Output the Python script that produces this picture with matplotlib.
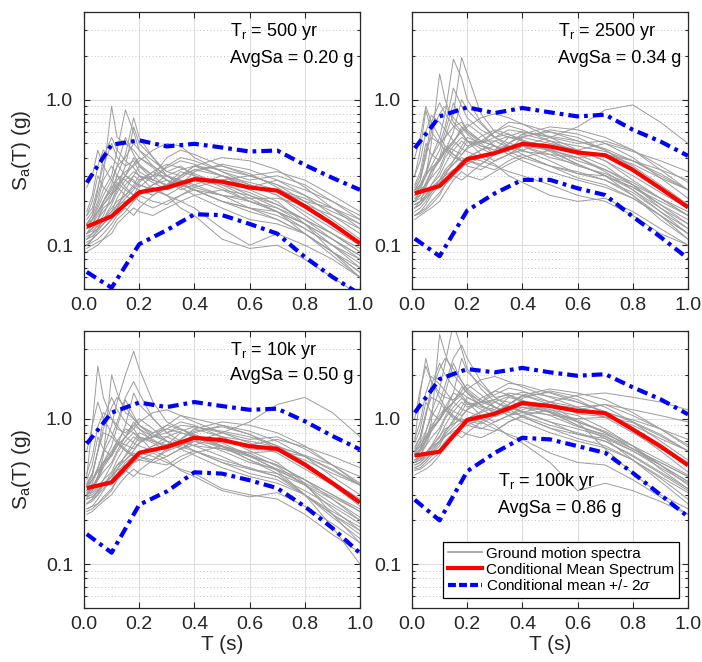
import numpy as np
import matplotlib
matplotlib.use('Agg')
import matplotlib.pyplot as plt
from matplotlib.ticker import FixedLocator, NullFormatter, FixedFormatter
from matplotlib.lines import Line2D

plt.rcParams['font.family'] = ['Liberation Sans', 'DejaVu Sans']
plt.rcParams['mathtext.fontset'] = 'custom'
plt.rcParams['mathtext.rm'] = 'Liberation Sans'
plt.rcParams['mathtext.it'] = 'Liberation Sans:italic'
plt.rcParams['mathtext.bf'] = 'Liberation Sans:bold'

# ---------------- data ----------------
T_cms = [0.01, 0.1, 0.2, 0.3, 0.4, 0.5, 0.6, 0.7, 0.8, 0.9, 1.0]
T_gm = [0.01, 0.03, 0.05, 0.07, 0.1, 0.12, 0.15, 0.18, 0.2, 0.25, 0.3, 0.35,
        0.4, 0.5, 0.6, 0.7, 0.8, 0.9, 1.0]

labels_tr = ['T$_\\mathrm{r}$ = 500 yr', 'T$_\\mathrm{r}$ = 2500 yr',
             'T$_\\mathrm{r}$ = 10k yr', 'T$_\\mathrm{r}$ = 100k yr']
labels_avg = ['AvgSa = 0.20 g', 'AvgSa = 0.34 g', 'AvgSa = 0.50 g', 'AvgSa = 0.86 g']

cms_500 = [0.134, 0.158, 0.231, 0.249, 0.284, 0.273, 0.249, 0.237, 0.185, 0.140, 0.103]
hi_500 = [0.269, 0.49, 0.525, 0.477, 0.497, 0.469, 0.44, 0.447, 0.356, 0.29, 0.24]
lo_500 = [0.0655, 0.051, 0.1016, 0.127, 0.163, 0.161, 0.14, 0.12, 0.083, 0.0605, 0.046]

cms_2500 = [0.227, 0.255, 0.39, 0.429, 0.497, 0.477, 0.433, 0.415, 0.329, 0.246, 0.182]
hi_2500 = [0.464, 0.767, 0.885, 0.809, 0.876, 0.818, 0.767, 0.788, 0.621, 0.516, 0.411]
lo_2500 = [0.111, 0.084, 0.173, 0.227, 0.281, 0.281, 0.246, 0.221, 0.157, 0.114, 0.081]

cms_10k = [0.333, 0.365, 0.582, 0.64, 0.739, 0.712, 0.647, 0.62, 0.483, 0.361, 0.265]
hi_10k = [0.672, 1.10, 1.29, 1.20, 1.30, 1.22, 1.15, 1.17, 0.96, 0.76, 0.614]
lo_10k = [0.161, 0.12, 0.256, 0.316, 0.428, 0.419, 0.377, 0.333, 0.249, 0.177, 0.119]

cms_100k = [0.558, 0.592, 0.979, 1.08, 1.28, 1.22, 1.13, 1.09, 0.844, 0.647, 0.478]
hi_100k = [1.10, 1.87, 2.19, 2.08, 2.23, 2.08, 1.97, 2.02, 1.64, 1.36, 1.07]
lo_100k = [0.277, 0.20, 0.435, 0.582, 0.739, 0.72, 0.647, 0.582, 0.424, 0.30, 0.212]

gm_500 = [
    [0.13, 0.15, 0.19, 0.24, 0.30, 0.45, 0.85, 0.60, 0.45, 0.35, 0.30, 0.28, 0.25, 0.22, 0.20, 0.17, 0.13, 0.10, 0.08],
    [0.11, 0.12, 0.14, 0.16, 0.22, 0.30, 0.42, 0.75, 0.55, 0.40, 0.32, 0.30, 0.33, 0.30, 0.26, 0.22, 0.16, 0.12, 0.09],
    [0.16, 0.18, 0.25, 0.35, 0.50, 0.40, 0.35, 0.38, 0.32, 0.28, 0.35, 0.40, 0.38, 0.32, 0.28, 0.30, 0.26, 0.20, 0.15],
    [0.10, 0.11, 0.12, 0.13, 0.15, 0.17, 0.20, 0.22, 0.26, 0.24, 0.22, 0.20, 0.18, 0.13, 0.10, 0.12, 0.10, 0.08, 0.06],
    [0.12, 0.13, 0.15, 0.18, 0.20, 0.25, 0.30, 0.28, 0.25, 0.30, 0.40, 0.45, 0.42, 0.35, 0.30, 0.26, 0.20, 0.15, 0.11],
    [0.14, 0.16, 0.20, 0.28, 0.35, 0.30, 0.25, 0.22, 0.20, 0.18, 0.20, 0.22, 0.25, 0.28, 0.30, 0.32, 0.28, 0.22, 0.17],
    [0.09, 0.095, 0.10, 0.11, 0.12, 0.14, 0.16, 0.18, 0.17, 0.16, 0.18, 0.20, 0.22, 0.24, 0.22, 0.18, 0.14, 0.10, 0.07],
    [0.15, 0.17, 0.22, 0.30, 0.90, 0.55, 0.50, 0.45, 0.40, 0.35, 0.30, 0.26, 0.24, 0.20, 0.18, 0.15, 0.12, 0.09, 0.065],
    [0.12, 0.14, 0.17, 0.20, 0.25, 0.28, 0.32, 0.35, 0.38, 0.45, 0.50, 0.48, 0.40, 0.32, 0.26, 0.22, 0.17, 0.13, 0.10],
    [0.11, 0.12, 0.13, 0.15, 0.18, 0.20, 0.22, 0.25, 0.24, 0.22, 0.25, 0.30, 0.35, 0.40, 0.38, 0.33, 0.25, 0.18, 0.13],
    [0.25, 0.30, 0.45, 0.35, 0.28, 0.25, 0.22, 0.20, 0.22, 0.26, 0.28, 0.25, 0.22, 0.18, 0.15, 0.14, 0.12, 0.09, 0.07],
    [0.13, 0.14, 0.16, 0.20, 0.24, 0.30, 0.28, 0.25, 0.28, 0.32, 0.28, 0.24, 0.26, 0.30, 0.27, 0.24, 0.20, 0.18, 0.15],
    [0.10, 0.11, 0.13, 0.14, 0.16, 0.18, 0.24, 0.30, 0.35, 0.30, 0.25, 0.30, 0.35, 0.30, 0.24, 0.20, 0.14, 0.09, 0.06],
    [0.14, 0.15, 0.18, 0.22, 0.28, 0.35, 0.40, 0.50, 0.45, 0.38, 0.32, 0.35, 0.30, 0.25, 0.20, 0.17, 0.14, 0.11, 0.085],
    [0.12, 0.13, 0.14, 0.15, 0.17, 0.19, 0.20, 0.21, 0.22, 0.25, 0.22, 0.18, 0.16, 0.11, 0.095, 0.10, 0.08, 0.06, 0.045],
    [0.16, 0.20, 0.30, 0.25, 0.22, 0.26, 0.30, 0.40, 0.35, 0.28, 0.26, 0.32, 0.30, 0.27, 0.25, 0.28, 0.24, 0.20, 0.16],
    [0.10, 0.105, 0.11, 0.12, 0.14, 0.16, 0.18, 0.16, 0.18, 0.22, 0.26, 0.25, 0.28, 0.26, 0.23, 0.19, 0.15, 0.12, 0.09],
    [0.13, 0.15, 0.17, 0.19, 0.22, 0.25, 0.35, 0.65, 0.50, 0.40, 0.30, 0.26, 0.24, 0.22, 0.21, 0.21, 0.19, 0.16, 0.13],
    [0.115, 0.12, 0.13, 0.15, 0.19, 0.23, 0.28, 0.32, 0.30, 0.27, 0.24, 0.26, 0.29, 0.27, 0.22, 0.19, 0.15, 0.11, 0.08],
    [0.14, 0.16, 0.24, 0.40, 0.55, 0.45, 0.38, 0.34, 0.30, 0.24, 0.22, 0.25, 0.28, 0.24, 0.20, 0.18, 0.15, 0.12, 0.095],
    [0.12, 0.125, 0.135, 0.15, 0.17, 0.21, 0.26, 0.30, 0.28, 0.30, 0.34, 0.38, 0.36, 0.30, 0.25, 0.24, 0.21, 0.17, 0.14],
    [0.095, 0.10, 0.105, 0.11, 0.13, 0.15, 0.17, 0.20, 0.22, 0.20, 0.19, 0.22, 0.24, 0.20, 0.17, 0.15, 0.12, 0.09, 0.065],
    [0.13, 0.14, 0.15, 0.17, 0.20, 0.24, 0.30, 0.36, 0.40, 0.34, 0.28, 0.26, 0.32, 0.36, 0.33, 0.28, 0.22, 0.16, 0.12],
    [0.17, 0.22, 0.35, 0.45, 0.40, 0.36, 0.30, 0.27, 0.26, 0.24, 0.26, 0.28, 0.26, 0.22, 0.18, 0.16, 0.13, 0.10, 0.075],
    [0.105, 0.11, 0.12, 0.13, 0.15, 0.18, 0.21, 0.24, 0.27, 0.32, 0.36, 0.34, 0.31, 0.26, 0.21, 0.17, 0.12, 0.085, 0.06],
    [0.14, 0.15, 0.17, 0.20, 0.26, 0.35, 0.55, 0.42, 0.36, 0.30, 0.30, 0.33, 0.35, 0.33, 0.30, 0.26, 0.22, 0.18, 0.14],
    [0.12, 0.13, 0.15, 0.19, 0.23, 0.27, 0.24, 0.22, 0.23, 0.26, 0.30, 0.27, 0.24, 0.20, 0.18, 0.17, 0.14, 0.11, 0.085],
    [0.11, 0.115, 0.125, 0.14, 0.16, 0.19, 0.22, 0.26, 0.30, 0.28, 0.26, 0.29, 0.33, 0.35, 0.31, 0.25, 0.19, 0.14, 0.10],
]

gm_2500 = [
    [0.20, 0.24, 0.30, 0.40, 0.55, 0.80, 1.90, 1.40, 1.00, 0.70, 0.55, 0.50, 0.48, 0.40, 0.36, 0.30, 0.24, 0.18, 0.14],
    [0.18, 0.20, 0.25, 0.30, 0.40, 0.55, 0.80, 1.95, 1.50, 0.80, 0.60, 0.55, 0.55, 0.50, 0.45, 0.38, 0.28, 0.21, 0.16],
    [0.30, 0.45, 0.85, 0.60, 0.50, 0.55, 0.65, 0.70, 0.60, 0.50, 0.55, 0.62, 0.60, 0.55, 0.50, 0.52, 0.45, 0.35, 0.27],
    [0.16, 0.17, 0.19, 0.22, 0.26, 0.28, 0.32, 0.38, 0.40, 0.38, 0.35, 0.32, 0.30, 0.26, 0.22, 0.20, 0.16, 0.12, 0.10],
    [0.22, 0.25, 0.30, 0.50, 1.50, 1.00, 0.70, 0.60, 0.52, 0.50, 0.60, 0.70, 0.68, 0.60, 0.52, 0.45, 0.35, 0.26, 0.19],
    [0.25, 0.30, 0.45, 0.55, 0.50, 0.45, 0.40, 0.38, 0.35, 0.33, 0.38, 0.42, 0.48, 0.55, 0.65, 0.85, 0.92, 0.70, 0.50],
    [0.15, 0.16, 0.17, 0.18, 0.20, 0.23, 0.28, 0.32, 0.30, 0.28, 0.32, 0.36, 0.40, 0.45, 0.40, 0.32, 0.24, 0.17, 0.12],
    [0.24, 0.28, 0.40, 0.60, 0.80, 0.90, 0.75, 0.65, 0.60, 0.52, 0.48, 0.44, 0.40, 0.35, 0.32, 0.28, 0.22, 0.16, 0.12],
    [0.20, 0.22, 0.27, 0.32, 0.38, 0.45, 0.52, 0.60, 0.65, 0.75, 0.80, 0.75, 0.68, 0.55, 0.45, 0.38, 0.30, 0.23, 0.18],
    [0.17, 0.18, 0.20, 0.23, 0.28, 0.32, 0.36, 0.40, 0.38, 0.36, 0.42, 0.50, 0.58, 0.65, 0.62, 0.55, 0.45, 0.33, 0.24],
    [0.40, 0.55, 0.90, 0.70, 0.55, 0.48, 0.42, 0.38, 0.40, 0.45, 0.48, 0.42, 0.38, 0.32, 0.28, 0.25, 0.21, 0.16, 0.12],
    [0.21, 0.23, 0.26, 0.32, 0.38, 0.48, 0.45, 0.42, 0.46, 0.52, 0.48, 0.42, 0.45, 0.52, 0.48, 0.44, 0.38, 0.33, 0.28],
    [0.18, 0.19, 0.22, 0.24, 0.27, 0.30, 0.38, 0.48, 0.55, 0.50, 0.42, 0.50, 0.58, 0.52, 0.42, 0.35, 0.26, 0.18, 0.13],
    [0.23, 0.26, 0.32, 0.40, 0.50, 0.65, 1.20, 0.90, 0.75, 0.62, 0.55, 0.58, 0.52, 0.44, 0.36, 0.30, 0.25, 0.20, 0.16],
    [0.19, 0.20, 0.22, 0.25, 0.28, 0.30, 0.33, 0.35, 0.36, 0.40, 0.36, 0.30, 0.27, 0.22, 0.20, 0.21, 0.17, 0.13, 0.10],
    [0.26, 0.32, 0.50, 0.42, 0.38, 0.44, 0.50, 0.65, 0.58, 0.48, 0.45, 0.55, 0.52, 0.48, 0.45, 0.50, 0.44, 0.38, 0.32],
    [0.16, 0.17, 0.18, 0.20, 0.23, 0.26, 0.30, 0.28, 0.30, 0.36, 0.42, 0.45, 0.48, 0.45, 0.40, 0.33, 0.27, 0.21, 0.16],
    [0.22, 0.26, 0.30, 0.34, 0.38, 0.44, 0.60, 1.00, 0.85, 0.68, 0.55, 0.48, 0.44, 0.42, 0.40, 0.42, 0.38, 0.30, 0.24],
    [0.19, 0.20, 0.22, 0.26, 0.32, 0.40, 0.48, 0.55, 0.52, 0.46, 0.42, 0.46, 0.50, 0.46, 0.38, 0.33, 0.26, 0.19, 0.14],
    [0.24, 0.28, 0.42, 0.70, 0.95, 0.80, 0.66, 0.58, 0.52, 0.42, 0.38, 0.42, 0.48, 0.42, 0.35, 0.31, 0.26, 0.21, 0.17],
    [0.20, 0.21, 0.23, 0.26, 0.30, 0.36, 0.45, 0.52, 0.48, 0.52, 0.60, 0.66, 0.62, 0.52, 0.44, 0.42, 0.36, 0.29, 0.24],
    [0.16, 0.165, 0.175, 0.19, 0.22, 0.26, 0.30, 0.34, 0.38, 0.35, 0.33, 0.38, 0.42, 0.35, 0.29, 0.26, 0.21, 0.16, 0.11],
    [0.22, 0.24, 0.26, 0.29, 0.34, 0.42, 0.52, 0.62, 0.68, 0.58, 0.48, 0.45, 0.55, 0.62, 0.58, 0.50, 0.40, 0.29, 0.21],
    [0.30, 0.38, 0.60, 0.78, 0.70, 0.62, 0.52, 0.46, 0.44, 0.40, 0.44, 0.48, 0.45, 0.38, 0.31, 0.28, 0.23, 0.17, 0.13],
    [0.18, 0.19, 0.21, 0.23, 0.26, 0.31, 0.36, 0.42, 0.47, 0.56, 0.62, 0.58, 0.53, 0.45, 0.36, 0.30, 0.22, 0.15, 0.11],
    [0.24, 0.26, 0.30, 0.35, 0.45, 0.60, 0.95, 0.72, 0.62, 0.52, 0.52, 0.56, 0.60, 0.56, 0.52, 0.46, 0.38, 0.31, 0.24],
    [0.21, 0.22, 0.26, 0.33, 0.40, 0.46, 0.42, 0.38, 0.40, 0.45, 0.52, 0.47, 0.42, 0.35, 0.31, 0.30, 0.25, 0.19, 0.15],
    [0.19, 0.20, 0.21, 0.24, 0.28, 0.33, 0.38, 0.45, 0.52, 0.48, 0.45, 0.50, 0.56, 0.60, 0.55, 0.45, 0.34, 0.25, 0.18],
]

gm_10k = [
    [0.30, 0.36, 0.45, 0.60, 0.90, 1.30, 2.00, 2.90, 2.20, 1.30, 0.95, 0.85, 0.75, 0.62, 0.55, 0.48, 0.38, 0.30, 0.23],
    [0.28, 0.32, 0.40, 0.55, 2.00, 1.50, 1.10, 1.00, 0.90, 0.80, 0.85, 0.80, 0.75, 0.65, 0.55, 0.45, 0.35, 0.26, 0.20],
    [0.40, 0.90, 2.30, 1.40, 1.00, 0.85, 0.80, 0.90, 0.85, 0.75, 0.80, 0.90, 0.88, 0.80, 0.72, 0.75, 0.62, 0.48, 0.36],
    [0.24, 0.25, 0.28, 0.32, 0.38, 0.42, 0.50, 0.55, 0.58, 0.55, 0.50, 0.45, 0.42, 0.33, 0.30, 0.28, 0.22, 0.16, 0.12],
    [0.30, 0.34, 0.40, 0.50, 0.60, 0.70, 0.85, 0.80, 0.72, 0.75, 0.90, 1.05, 1.00, 0.90, 0.78, 0.65, 0.50, 0.37, 0.28],
    [0.35, 0.42, 0.60, 0.80, 0.75, 0.68, 0.60, 0.55, 0.52, 0.50, 0.55, 0.62, 0.70, 0.80, 0.95, 1.25, 1.40, 1.10, 0.75],
    [0.22, 0.23, 0.25, 0.27, 0.30, 0.34, 0.40, 0.45, 0.42, 0.40, 0.45, 0.52, 0.58, 0.65, 0.58, 0.47, 0.35, 0.24, 0.17],
    [0.36, 0.42, 0.60, 0.85, 1.20, 1.40, 1.20, 1.00, 0.90, 0.78, 0.70, 0.64, 0.60, 0.52, 0.46, 0.40, 0.30, 0.22, 0.17],
    [0.30, 0.33, 0.40, 0.48, 0.56, 0.65, 0.75, 0.85, 0.95, 1.10, 1.15, 1.05, 0.95, 0.80, 0.68, 0.58, 0.45, 0.35, 0.27],
    [0.26, 0.27, 0.30, 0.35, 0.42, 0.48, 0.52, 0.58, 0.55, 0.52, 0.60, 0.72, 0.85, 0.95, 0.90, 0.80, 0.65, 0.48, 0.35],
    [0.60, 0.90, 1.30, 1.00, 0.80, 0.70, 0.62, 0.56, 0.58, 0.65, 0.70, 0.62, 0.56, 0.46, 0.40, 0.36, 0.30, 0.23, 0.18],
    [0.31, 0.34, 0.38, 0.46, 0.56, 0.70, 0.66, 0.62, 0.68, 0.76, 0.70, 0.62, 0.66, 0.75, 0.70, 0.64, 0.56, 0.48, 0.40],
    [0.26, 0.28, 0.32, 0.35, 0.40, 0.45, 0.56, 0.70, 0.80, 0.72, 0.62, 0.72, 0.85, 0.75, 0.60, 0.50, 0.36, 0.22, 0.14],
    [0.34, 0.38, 0.46, 0.58, 0.75, 0.95, 1.40, 1.80, 1.50, 1.00, 0.80, 0.85, 0.76, 0.64, 0.52, 0.44, 0.36, 0.29, 0.23],
    [0.28, 0.29, 0.32, 0.36, 0.40, 0.44, 0.48, 0.50, 0.52, 0.58, 0.52, 0.44, 0.40, 0.32, 0.29, 0.31, 0.25, 0.19, 0.14],
    [0.38, 0.48, 0.75, 0.62, 0.55, 0.65, 0.75, 0.95, 0.85, 0.70, 0.66, 0.80, 0.76, 0.70, 0.66, 0.72, 0.64, 0.55, 0.46],
    [0.23, 0.24, 0.26, 0.29, 0.33, 0.38, 0.44, 0.40, 0.44, 0.52, 0.62, 0.66, 0.70, 0.65, 0.56, 0.44, 0.30, 0.18, 0.10],
    [0.32, 0.38, 0.44, 0.50, 0.56, 0.65, 0.90, 1.50, 1.25, 1.00, 0.80, 0.70, 0.65, 0.62, 0.58, 0.60, 0.55, 0.44, 0.35],
    [0.29, 0.30, 0.33, 0.38, 0.48, 0.58, 0.70, 0.80, 0.75, 0.68, 0.60, 0.65, 0.72, 0.68, 0.56, 0.48, 0.38, 0.28, 0.20],
    [0.35, 0.40, 0.60, 1.00, 1.40, 1.15, 0.95, 0.85, 0.75, 0.60, 0.55, 0.62, 0.70, 0.60, 0.50, 0.45, 0.38, 0.30, 0.24],
    [0.30, 0.31, 0.34, 0.38, 0.43, 0.52, 0.65, 0.75, 0.70, 0.75, 0.85, 0.95, 0.90, 0.75, 0.62, 0.60, 0.52, 0.42, 0.35],
    [0.24, 0.25, 0.26, 0.28, 0.32, 0.38, 0.43, 0.50, 0.55, 0.50, 0.48, 0.55, 0.60, 0.50, 0.42, 0.38, 0.30, 0.22, 0.16],
    [0.32, 0.35, 0.38, 0.43, 0.50, 0.60, 0.75, 0.90, 1.00, 0.85, 0.70, 0.65, 0.80, 0.90, 0.82, 0.70, 0.55, 0.40, 0.30],
    [0.42, 0.55, 0.88, 1.10, 1.00, 0.90, 0.75, 0.68, 0.65, 0.60, 0.65, 0.70, 0.65, 0.55, 0.45, 0.40, 0.32, 0.25, 0.19],
    [0.26, 0.28, 0.30, 0.33, 0.38, 0.45, 0.52, 0.60, 0.68, 0.80, 0.90, 0.85, 0.78, 0.65, 0.52, 0.42, 0.30, 0.21, 0.15],
    [0.35, 0.38, 0.43, 0.50, 0.65, 0.88, 1.35, 1.05, 0.90, 0.75, 0.75, 0.82, 0.88, 0.82, 0.75, 0.65, 0.55, 0.45, 0.35],
    [0.30, 0.32, 0.38, 0.48, 0.58, 0.68, 0.60, 0.55, 0.58, 0.65, 0.75, 0.68, 0.60, 0.50, 0.45, 0.42, 0.35, 0.28, 0.21],
    [0.28, 0.29, 0.31, 0.35, 0.40, 0.48, 0.55, 0.65, 0.75, 0.70, 0.65, 0.72, 0.82, 0.88, 0.78, 0.62, 0.48, 0.35, 0.25],
]

gm_100k = [
    [0.55, 0.62, 0.80, 1.10, 1.60, 2.40, 4.50, 3.00, 2.20, 1.60, 1.30, 1.20, 1.10, 0.95, 0.85, 0.75, 0.60, 0.46, 0.36],
    [0.50, 0.55, 0.70, 0.95, 3.80, 2.80, 2.00, 1.70, 1.50, 1.30, 1.35, 1.30, 1.25, 1.10, 0.95, 0.80, 0.62, 0.48, 0.37],
    [0.70, 1.50, 2.60, 1.80, 1.50, 1.40, 1.35, 1.50, 1.40, 1.25, 1.35, 1.50, 1.45, 1.30, 1.20, 1.25, 1.05, 0.85, 0.66],
    [0.46, 0.48, 0.52, 0.58, 0.68, 0.75, 0.85, 0.95, 1.00, 0.95, 0.85, 0.78, 0.72, 0.58, 0.50, 0.48, 0.38, 0.29, 0.22],
    [0.56, 0.62, 0.72, 0.90, 1.05, 1.20, 1.50, 1.40, 1.25, 1.30, 1.55, 1.75, 1.70, 1.50, 1.30, 1.10, 0.85, 0.65, 0.50],
    [0.62, 0.75, 1.10, 1.40, 1.30, 1.15, 1.00, 0.95, 0.90, 0.85, 0.95, 1.05, 1.15, 1.30, 1.45, 1.50, 1.40, 1.30, 1.15],
    [0.44, 0.45, 0.48, 0.52, 0.58, 0.65, 0.75, 0.82, 0.78, 0.74, 0.82, 0.95, 1.05, 1.15, 1.05, 0.85, 0.65, 0.45, 0.33],
    [0.64, 0.75, 1.05, 1.50, 2.20, 2.60, 2.20, 1.80, 1.60, 1.35, 1.20, 1.10, 1.05, 0.90, 0.80, 0.70, 0.55, 0.42, 0.32],
    [0.55, 0.60, 0.70, 0.85, 1.00, 1.15, 1.30, 1.45, 1.60, 1.85, 1.95, 1.80, 1.65, 1.40, 1.20, 1.02, 0.80, 0.62, 0.48],
    [0.50, 0.52, 0.56, 0.64, 0.76, 0.85, 0.92, 1.00, 0.96, 0.92, 1.05, 1.25, 1.45, 1.60, 1.50, 1.35, 1.10, 0.85, 0.64],
    [1.00, 1.60, 2.30, 1.80, 1.40, 1.20, 1.05, 0.96, 1.00, 1.10, 1.20, 1.05, 0.95, 0.80, 0.70, 0.63, 0.52, 0.40, 0.31],
    [0.57, 0.62, 0.70, 0.82, 0.98, 1.20, 1.12, 1.05, 1.15, 1.30, 1.20, 1.05, 1.10, 1.25, 1.18, 1.10, 0.98, 0.85, 0.72],
    [0.48, 0.50, 0.56, 0.62, 0.70, 0.80, 0.98, 1.20, 1.40, 1.25, 1.08, 1.25, 1.45, 1.25, 0.95, 0.62, 0.42, 0.30, 0.24],
    [0.60, 0.68, 0.82, 1.02, 1.30, 1.70, 2.60, 3.20, 2.60, 1.80, 1.40, 1.45, 1.30, 1.10, 0.90, 0.76, 0.62, 0.50, 0.40],
    [0.52, 0.53, 0.58, 0.64, 0.70, 0.76, 0.82, 0.86, 0.90, 1.00, 0.90, 0.76, 0.68, 0.50, 0.32, 0.36, 0.32, 0.27, 0.22],
    [0.68, 0.85, 1.30, 1.10, 0.98, 1.12, 1.30, 1.65, 1.50, 1.22, 1.15, 1.40, 1.32, 1.22, 1.15, 1.25, 1.15, 1.05, 0.95],
    [0.45, 0.46, 0.50, 0.55, 0.62, 0.70, 0.80, 0.74, 0.80, 0.95, 1.10, 1.15, 1.20, 1.12, 0.98, 0.80, 0.62, 0.50, 0.40],
    [0.58, 0.65, 0.76, 0.86, 0.98, 1.12, 1.50, 2.60, 2.10, 1.70, 1.40, 1.22, 1.12, 1.06, 1.00, 1.02, 0.94, 0.76, 0.60],
    [0.50, 0.52, 0.57, 0.65, 0.82, 1.00, 1.20, 1.38, 1.30, 1.16, 1.03, 1.12, 1.25, 1.16, 0.95, 0.82, 0.65, 0.48, 0.35],
    [0.60, 0.70, 1.05, 1.70, 2.40, 2.00, 1.65, 1.45, 1.30, 1.05, 0.95, 1.05, 1.20, 1.05, 0.88, 0.78, 0.65, 0.52, 0.41],
    [0.52, 0.54, 0.58, 0.65, 0.74, 0.90, 1.12, 1.30, 1.20, 1.30, 1.46, 1.62, 1.55, 1.30, 1.08, 1.03, 0.90, 0.73, 0.60],
    [0.41, 0.43, 0.45, 0.48, 0.56, 0.65, 0.74, 0.86, 0.95, 0.86, 0.82, 0.95, 1.03, 0.86, 0.73, 0.65, 0.52, 0.39, 0.28],
    [0.56, 0.60, 0.65, 0.74, 0.86, 1.03, 1.30, 1.55, 1.72, 1.46, 1.20, 1.12, 1.38, 1.55, 1.42, 1.20, 0.95, 0.70, 0.52],
    [0.73, 0.95, 1.50, 1.95, 1.72, 1.55, 1.30, 1.16, 1.12, 1.03, 1.12, 1.20, 1.12, 0.95, 0.78, 0.70, 0.56, 0.43, 0.33],
    [0.46, 0.48, 0.52, 0.57, 0.65, 0.78, 0.90, 1.03, 1.16, 1.38, 1.55, 1.46, 1.34, 1.12, 0.90, 0.73, 0.52, 0.37, 0.26],
    [0.60, 0.65, 0.74, 0.86, 1.12, 1.50, 2.40, 1.80, 1.55, 1.30, 1.30, 1.42, 1.52, 1.42, 1.30, 1.12, 0.95, 0.78, 0.60],
    [0.52, 0.56, 0.65, 0.82, 1.00, 1.16, 1.03, 0.95, 1.00, 1.12, 1.30, 1.16, 1.03, 0.86, 0.78, 0.73, 0.60, 0.48, 0.37],
    [0.48, 0.50, 0.54, 0.60, 0.70, 0.82, 0.95, 1.12, 1.30, 1.20, 1.12, 1.25, 1.42, 1.52, 1.35, 1.08, 0.82, 0.60, 0.43],
]

x_ticks = [0.0, 0.2, 0.4, 0.6, 0.8, 1.0]
x_ticklabels = ['0.0', '0.2', '0.4', '0.6', '0.8', '1.0']
y_ticks = [0.1, 1.0]
y_ticklabels = ['0.1', '1.0']
y_minor = [0.05, 0.06, 0.07, 0.08, 0.09, 0.2, 0.3, 0.4, 0.5, 0.6, 0.7, 0.8, 0.9, 2.0, 3.0, 4.0]

legend_labels = ['Ground motion spectra', 'Conditional Mean Spectrum',
                 'Conditional mean +/- 2$\\sigma$']

panels = [
    (gm_500, cms_500, hi_500, lo_500),
    (gm_2500, cms_2500, hi_2500, lo_2500),
    (gm_10k, cms_10k, hi_10k, lo_10k),
    (gm_100k, cms_100k, hi_100k, lo_100k),
]

# ---------------- layout / style ----------------
W, H = 702, 662
fig = plt.figure(figsize=(W / 100, H / 100), dpi=100)
ax_boxes = [(84, 12), (412, 12), (84, 331), (412, 331)]
aw, ah = 276, 277
text_pos = [(0.529, 0.913, 0.816), (0.529, 0.913, 0.816),
            (0.529, 0.913, 0.822), (0.312, 0.440, 0.343)]

AX_COL = '#262626'
GRAY = '#9c9c9c'
BLUE_DASH = [2.6, 1.2, 0.9, 1.2]

axes = []
for i, ((gm, cms, hi, lo), (px, py)) in enumerate(zip(panels, ax_boxes)):
    ax = fig.add_axes([px / W, 1 - (py + ah) / H, aw / W, ah / H])
    axes.append(ax)
    ax.set_yscale('log')
    for row in gm:
        ax.plot(T_gm, row, color=GRAY, lw=0.7, zorder=2)
    ax.plot(T_cms, cms, color='red', lw=3.0, zorder=4, solid_capstyle='butt')
    ax.plot(T_cms, hi, color='blue', lw=3.0, dashes=BLUE_DASH, zorder=3)
    ax.plot(T_cms, lo, color='blue', lw=3.0, dashes=BLUE_DASH, zorder=3)

    ax.set_xlim(0, 1)
    ax.set_ylim(0.05, 4)
    ax.xaxis.set_major_locator(FixedLocator(x_ticks))
    ax.xaxis.set_major_formatter(FixedFormatter(x_ticklabels))
    ax.yaxis.set_major_locator(FixedLocator(y_ticks))
    ax.yaxis.set_major_formatter(FixedFormatter(y_ticklabels))
    ax.yaxis.set_minor_locator(FixedLocator(y_minor))
    ax.yaxis.set_minor_formatter(NullFormatter())

    ax.tick_params(which='both', direction='in', top=True, right=True,
                   color=AX_COL, labelcolor=AX_COL, width=0.8)
    ax.tick_params(which='major', length=4, labelsize=14)
    ax.tick_params(which='minor', length=2.2)
    ax.tick_params(axis='x', which='major', pad=6)
    ax.tick_params(axis='y', which='major', pad=8)
    for s in ax.spines.values():
        s.set_color(AX_COL)
        s.set_linewidth(0.9)
        s.set_zorder(6)

    ax.set_axisbelow(True)
    ax.grid(which='major', color='#dcdcdc', lw=0.7, ls='-')
    ax.grid(which='minor', axis='y', color='#c4c4c4', lw=0.7, ls=(0, (1, 2.5)))

    tx, ty1, ty2 = text_pos[i]
    ax.text(tx, ty1, labels_tr[i], transform=ax.transAxes, fontsize=13,
            ha='left', va='baseline', color='black', zorder=7)
    ax.text(tx, ty2, labels_avg[i], transform=ax.transAxes, fontsize=13,
            ha='left', va='baseline', color='black', zorder=7)

    if i in (0, 2):
        ax.set_ylabel('S$_\\mathrm{a}$(T) (g)', fontsize=15, color=AX_COL)
        ax.yaxis.set_label_coords(-0.185, 0.5)
    if i in (2, 3):
        ax.set_xlabel('T (s)', fontsize=15, color=AX_COL, labelpad=1)

handles = [Line2D([], [], color=GRAY, lw=1.2),
           Line2D([], [], color='red', lw=3.0),
           Line2D([], [], color='blue', lw=3.0, dashes=[1.9, 0.75])]
leg = axes[3].legend(handles, legend_labels, loc='lower right',
                     bbox_to_anchor=(0.967, 0.036), borderaxespad=0,
                     fontsize=11, fancybox=False, framealpha=1,
                     edgecolor='black', handlelength=2.2, handletextpad=0.3,
                     labelspacing=0.12, borderpad=0.3)
leg.get_frame().set_linewidth(0.9)
leg.set_zorder(10)

fig.savefig('out.png', dpi=100)
